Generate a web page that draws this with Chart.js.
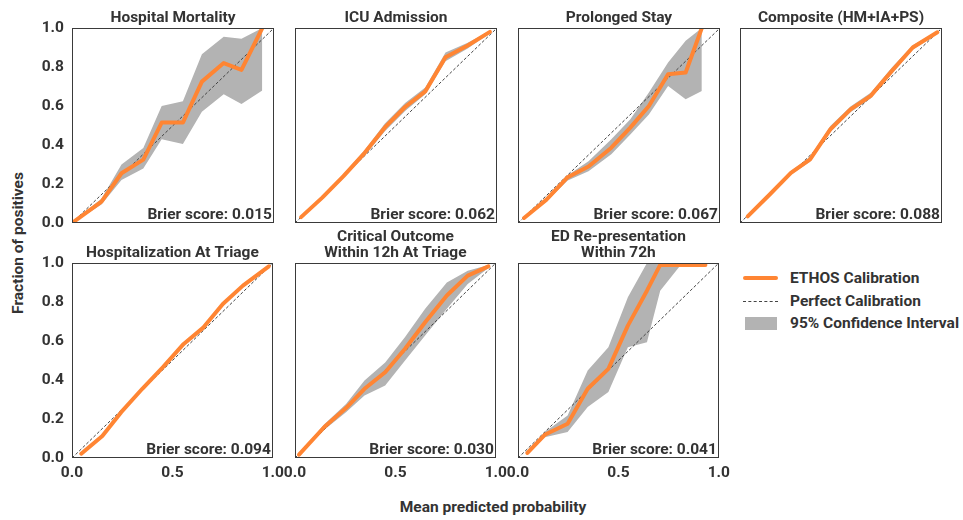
<!DOCTYPE html>
<html>
<head>
<meta charset="utf-8">
<script src="https://cdn.jsdelivr.net/npm/chart.js@4.4.1/dist/chart.umd.min.js"></script>
<style>
  html, body { margin: 0; padding: 0; background: #fff; }
  #fig {
    position: relative; width: 963px; height: 520px; overflow: hidden;
    font-family: Roboto, sans-serif; font-weight: 700; color: #333;
  }
  #fig canvas { position: absolute; }
  .axis-label { position: absolute; font-size: 15.5px; white-space: nowrap; }
  #ylabel { left: 18px; top: 243px; transform: translate(-50%, -50%) rotate(-90deg); }
  #xlabel { left: 493px; top: 507px; transform: translate(-50%, -50%); }
  .legend { position: absolute; left: 743px; top: 267px; font-size: 15.5px; }
  .legend-row { position: relative; height: 22.5px; line-height: 22px; padding-left: 47px; white-space: nowrap; }
  .sw { position: absolute; left: 0; }
  .sw-line { top: 9px; width: 35px; height: 4px; border-radius: 2px; background: #ff8533; }
  .sw-dash { top: 11px; width: 35px; border-top: 1px dashed #444; }
  .sw-band { top: 5px; left: 2px; width: 32px; height: 13px; background: #b3b3b3; }
</style>
</head>
<body>
<div id="fig">
  <div id="ylabel" class="axis-label">Fraction of positives</div>
  <div id="xlabel" class="axis-label">Mean predicted probability</div>
  <div class="legend">
    <div class="legend-row"><span class="sw sw-line"></span>ETHOS Calibration</div>
    <div class="legend-row"><span class="sw sw-dash"></span>Perfect Calibration</div>
    <div class="legend-row"><span class="sw sw-band"></span>95% Confidence Interval</div>
  </div>
</div>
<script>
// 各パネルの値（図から目視で読み取り）
const panelTitles = [
  ['Hospital Mortality'],
  ['ICU Admission'],
  ['Prolonged Stay'],
  ['Composite (HM+IA+PS)'],
  ['Hospitalization At Triage'],
  ['Critical Outcome', 'Within 12h At Triage'],
  ['ED Re-presentation', 'Within 72h'],
];
const brierScores = ['0.015', '0.062', '0.067', '0.088', '0.094', '0.030', '0.041'];

const xTicks = [0, 0.5, 1];
const yTicks = [0, 0.2, 0.4, 0.6, 0.8, 1];
const perfectLine = [0, 1];

const predMortality = [0.013, 0.146, 0.245, 0.353, 0.444, 0.549, 0.643, 0.751, 0.839, 0.942];
const fracMortality = [0.01, 0.11, 0.255, 0.325, 0.515, 0.515, 0.725, 0.82, 0.785, 1.0];
const lowMortality  = [0.005, 0.095, 0.22, 0.28, 0.43, 0.405, 0.57, 0.66, 0.61, 0.68];
const highMortality = [0.015, 0.125, 0.30, 0.385, 0.60, 0.625, 0.865, 0.955, 0.945, 1.0];

const predIcu = [0.03, 0.135, 0.24, 0.345, 0.445, 0.545, 0.645, 0.745, 0.855, 0.965];
const fracIcu = [0.03, 0.13, 0.24, 0.36, 0.49, 0.595, 0.675, 0.85, 0.91, 0.98];
const lowIcu  = [0.025, 0.12, 0.23, 0.345, 0.47, 0.575, 0.66, 0.83, 0.895, 0.975];
const highIcu = [0.035, 0.14, 0.25, 0.375, 0.51, 0.615, 0.695, 0.875, 0.925, 0.985];

const predStay = [0.03, 0.141, 0.246, 0.349, 0.462, 0.556, 0.648, 0.743, 0.83, 0.91];
const fracStay = [0.026, 0.12, 0.235, 0.29, 0.386, 0.489, 0.6, 0.763, 0.772, 1.0];
const lowStay  = [0.022, 0.11, 0.218, 0.266, 0.352, 0.454, 0.557, 0.703, 0.635, 0.677];
const highStay = [0.03, 0.13, 0.245, 0.317, 0.429, 0.532, 0.669, 0.823, 0.935, 1.0];

const predComposite = [0.038, 0.147, 0.252, 0.347, 0.447, 0.547, 0.647, 0.752, 0.855, 0.977];
const fracComposite = [0.034, 0.146, 0.257, 0.326, 0.48, 0.583, 0.652, 0.78, 0.9, 0.978];
const lowComposite  = [0.03, 0.136, 0.247, 0.314, 0.465, 0.568, 0.638, 0.765, 0.888, 0.972];
const highComposite = [0.038, 0.156, 0.267, 0.338, 0.497, 0.598, 0.668, 0.797, 0.912, 0.984];

const predTriage = [0.046, 0.151, 0.245, 0.35, 0.453, 0.556, 0.655, 0.751, 0.851, 0.98];
const fracTriage = [0.022, 0.113, 0.235, 0.355, 0.466, 0.585, 0.67, 0.79, 0.884, 0.983];
const lowTriage  = [0.018, 0.108, 0.23, 0.35, 0.461, 0.58, 0.665, 0.785, 0.88, 0.98];
const highTriage = [0.026, 0.118, 0.24, 0.36, 0.471, 0.59, 0.675, 0.795, 0.888, 0.986];

const predCritical = [0.02, 0.146, 0.254, 0.346, 0.449, 0.548, 0.648, 0.756, 0.86, 0.963];
const fracCritical = [0.017, 0.159, 0.256, 0.355, 0.44, 0.56, 0.696, 0.833, 0.935, 0.983];
const lowCritical  = [0.012, 0.145, 0.235, 0.32, 0.372, 0.5, 0.628, 0.765, 0.892, 0.975];
const highCritical = [0.022, 0.173, 0.277, 0.398, 0.49, 0.62, 0.765, 0.9, 0.96, 0.99];

const predRepresent = [0.047, 0.133, 0.247, 0.347, 0.45, 0.547, 0.642, 0.708, 0.81, 0.933];
const fracRepresent = [0.026, 0.119, 0.176, 0.355, 0.457, 0.679, 0.858, 0.99, 0.99, 0.99];
const lowRepresent  = [0.022, 0.107, 0.133, 0.261, 0.338, 0.568, 0.594, 0.858, 0.99, 0.99];
const highRepresent = [0.03, 0.133, 0.218, 0.449, 0.568, 0.824, 1.0, 1.0, 1.0, 1.0];

const panels = [
  { pred: predMortality, frac: fracMortality, low: lowMortality, high: highMortality },
  { pred: predIcu, frac: fracIcu, low: lowIcu, high: highIcu },
  { pred: predStay, frac: fracStay, low: lowStay, high: highStay },
  { pred: predComposite, frac: fracComposite, low: lowComposite, high: highComposite },
  { pred: predTriage, frac: fracTriage, low: lowTriage, high: highTriage },
  { pred: predCritical, frac: fracCritical, low: lowCritical, high: highCritical },
  { pred: predRepresent, frac: fracRepresent, low: lowRepresent, high: highRepresent },
];

// レイアウト（枠の位置）
const colLeft = [72, 295, 518, 740];
const rowTop = [28, 263];
const plotW = 202, plotH = 195;
const padL = 45, padT = 45, padR = 16, padB = 30;

const ORANGE = '#ff8533';
const BAND = '#b3b3b3';
const TEXT = '#333';
const FONT_SIZE = 15.5;

Chart.defaults.font.family = 'Roboto, sans-serif';
Chart.defaults.font.weight = 'bold';
Chart.defaults.color = TEXT;

const toPts = (xs, ys) => xs.map((x, i) => ({ x, y: ys[i] }));

// 枠・タイトル・Brier score を描くプラグイン
const panelDecor = {
  id: 'panelDecor',
  afterDatasetsDraw(chart, args, opts) {
    const { ctx, chartArea: a } = chart;
    ctx.save();
    ctx.strokeStyle = '#3a3a3a';
    ctx.lineWidth = 1;
    ctx.strokeRect(Math.round(a.left) + 0.5, Math.round(a.top) + 0.5,
      Math.round(a.right - a.left) - 1, Math.round(a.bottom - a.top) - 1);
    ctx.fillStyle = TEXT;
    ctx.font = `bold ${FONT_SIZE}px Roboto, sans-serif`;
    ctx.textAlign = 'right';
    ctx.textBaseline = 'alphabetic';
    ctx.fillText('Brier score: ' + opts.brier, a.right - 2, a.bottom - 4.5);
    ctx.textAlign = 'center';
    const cx = (a.left + a.right) / 2;
    const lines = opts.title;
    lines.forEach((t, i) => {
      ctx.fillText(t, cx, a.top - 6.5 - (lines.length - 1 - i) * 16);
    });
    ctx.restore();
  }
};

panels.forEach((p, i) => {
  const row = i < 4 ? 0 : 1;
  const col = i < 4 ? i : i - 4;
  const showY = col === 0;
  const showX = row === 1;

  const canvas = document.createElement('canvas');
  canvas.width = padL + plotW + padR;
  canvas.height = padT + plotH + padB;
  canvas.style.left = (colLeft[col] - padL) + 'px';
  canvas.style.top = (rowTop[row] - padT) + 'px';
  document.getElementById('fig').appendChild(canvas);

  new Chart(canvas, {
    type: 'line',
    data: {
      datasets: [
        {
          label: 'ETHOS Calibration',
          data: toPts(p.pred, p.frac),
          borderColor: ORANGE, borderWidth: 4, pointRadius: 0,
          borderCapStyle: 'round', borderJoinStyle: 'round', fill: false,
        },
        {
          label: 'Perfect Calibration',
          data: toPts(perfectLine, perfectLine),
          borderColor: '#444', borderWidth: 1, borderDash: [3, 2], pointRadius: 0, fill: false,
        },
        {
          label: 'CI lower',
          data: toPts(p.pred, p.low),
          borderWidth: 0, pointRadius: 0, fill: false,
        },
        {
          label: '95% Confidence Interval',
          data: toPts(p.pred, p.high),
          borderWidth: 0, pointRadius: 0, backgroundColor: BAND, fill: '-1',
        },
      ]
    },
    options: {
      responsive: false,
      animation: false,
      devicePixelRatio: 1,
      layout: { padding: { top: padT, right: padR, left: 0, bottom: 0 } },
      plugins: {
        legend: { display: false },
        tooltip: { enabled: false },
        panelDecor: { title: panelTitles[i], brier: brierScores[i] },
      },
      scales: {
        x: {
          type: 'linear', min: 0, max: 1,
          afterBuildTicks: s => { s.ticks = xTicks.map(v => ({ value: v })); },
          afterFit: s => { s.height = padB; },
          grid: { display: false, drawTicks: false, tickLength: 0 },
          border: { display: false },
          ticks: {
            display: showX, padding: 6, maxRotation: 0,
            font: { size: FONT_SIZE, weight: 'bold' },
            callback: v => v.toFixed(1),
          },
        },
        y: {
          type: 'linear', min: 0, max: 1,
          afterBuildTicks: s => { s.ticks = yTicks.map(v => ({ value: v })); },
          afterFit: s => { s.width = padL; },
          grid: { display: false, drawTicks: false, tickLength: 0 },
          border: { display: false },
          ticks: {
            display: showY, padding: 8,
            font: { size: FONT_SIZE, weight: 'bold' },
            callback: v => v.toFixed(1),
          },
        },
      },
    },
    plugins: [panelDecor],
  });
});
</script>
</body>
</html>
